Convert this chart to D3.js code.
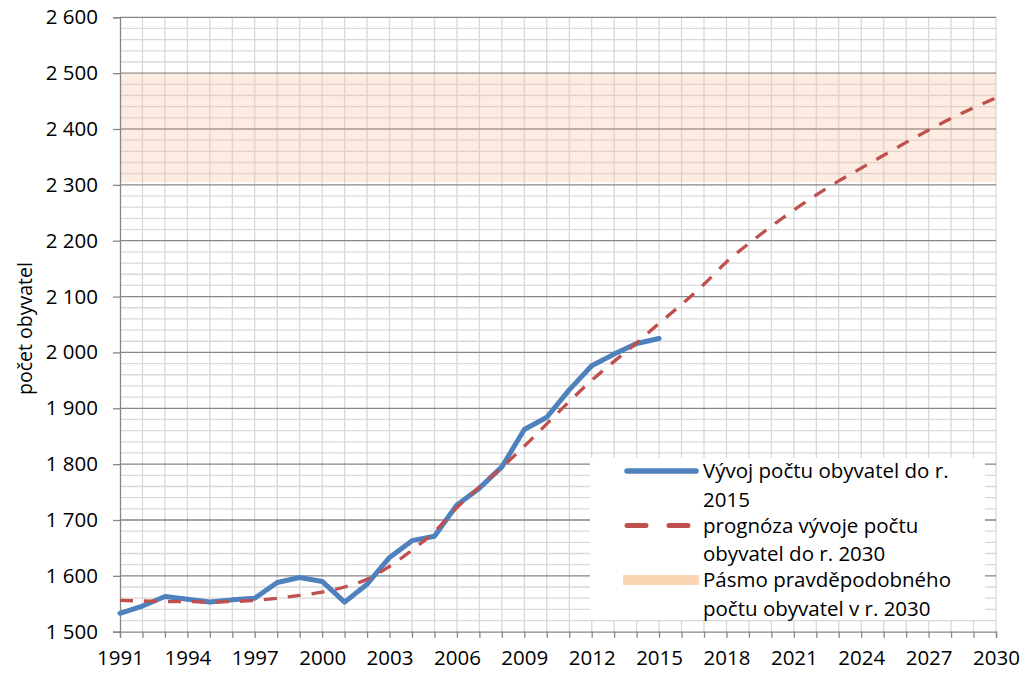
<!DOCTYPE html>
<html>
<head>
<meta charset="utf-8">
<script src="https://cdn.jsdelivr.net/npm/d3@7.9.0/dist/d3.min.js"></script>
<style>
  body { margin: 0; background: #fff; }
  svg { display: block; font-family: "Open Sans", sans-serif; }
</style>
</head>
<body>
<svg id="chart" width="1035" height="673"></svg>
<script>
// population data
const yearsActual = [1991, 1992, 1993, 1994, 1995, 1996, 1997, 1998, 1999, 2000, 2001, 2002, 2003,
  2004, 2005, 2006, 2007, 2008, 2009, 2010, 2011, 2012, 2013, 2014, 2015];
const actual = [1533, 1546, 1563, 1558, 1553, 1557, 1560, 1588, 1597, 1590, 1553, 1585, 1633,
  1663, 1671, 1727, 1757, 1795, 1862, 1884, 1933, 1976, 1997, 2016, 2025];

const yearsForecast = [1991, 1992, 1993, 1994, 1995, 1996, 1997, 1998, 1999, 2000, 2001, 2002, 2003,
  2004, 2005, 2006, 2007, 2008, 2009, 2010, 2011, 2012, 2013, 2014, 2015, 2016, 2017, 2018, 2019,
  2020, 2021, 2022, 2023, 2024, 2025, 2026, 2027, 2028, 2029, 2030];
const forecast = [1556, 1555, 1554, 1554, 1553, 1554, 1556, 1560, 1565, 1571, 1580, 1594, 1617,
  1646, 1679, 1722, 1759, 1794, 1832, 1872, 1912, 1950, 1984, 2017, 2052, 2086, 2122, 2162, 2195,
  2226, 2255, 2282, 2307, 2330, 2353, 2376, 2398, 2419, 2438, 2456];

// likely range for 2030
const bandLow = 2305;
const bandHigh = 2500;

const xLabelYears = [1991, 1994, 1997, 2000, 2003, 2006, 2009, 2012, 2015, 2018, 2021, 2024, 2027, 2030];
const yMajorTicks = [1500, 1600, 1700, 1800, 1900, 2000, 2100, 2200, 2300, 2400, 2500, 2600];

const legendItems = [
  { lines: ["Vývoj počtu obyvatel do r.", "2015"], kind: "actual" },
  { lines: ["prognóza vývoje počtu", "obyvatel do r. 2030"], kind: "forecast" },
  { lines: ["Pásmo pravděpodobného", "počtu obyvatel v r. 2030"], kind: "band" }
];

const blue = "#4f81bd", red = "#c0504d", peach = "#fcd5b5";

const svg = d3.select("#chart");
const x = d3.scaleLinear().domain([1991, 2030]).range([120, 996]);
const y = d3.scaleLinear().domain([1500, 2600]).range([631.7, 17.3]);

const cz = d3.formatLocale({ decimal: ",", thousands: "\u00a0", grouping: [3], currency: ["", " Kč"] });
const fmt = cz.format(",d");

// minor horizontal grid every 20
const minorY = d3.range(1500, 2601, 20).filter(v => v % 100 !== 0);
svg.append("g").selectAll("line").data(minorY).join("line")
  .attr("x1", x(1991)).attr("x2", x(2030))
  .attr("y1", d => y(d)).attr("y2", d => y(d))
  .attr("stroke", "#d9d9d9").attr("stroke-width", 1.3);

// vertical grid every year
svg.append("g").selectAll("line").data(yearsForecast.slice(1)).join("line")
  .attr("x1", d => x(d)).attr("x2", d => x(d))
  .attr("y1", y(2600)).attr("y2", y(1500))
  .attr("stroke", "#d9d9d9").attr("stroke-width", 1.3);

// major horizontal grid
svg.append("g").selectAll("line").data(yMajorTicks.slice(1)).join("line")
  .attr("x1", x(1991)).attr("x2", x(2030))
  .attr("y1", d => y(d)).attr("y2", d => y(d))
  .attr("stroke", "#868686").attr("stroke-width", 1.3);

// band of probable population
svg.append("rect")
  .attr("x", x(1991)).attr("width", x(2030) - x(1991))
  .attr("y", y(bandHigh)).attr("height", y(bandLow) - y(bandHigh))
  .attr("fill", "#f5c09a").attr("opacity", 0.3);

// axes
const yAxis = d3.axisLeft(y).tickValues(yMajorTicks).tickFormat(fmt).tickSize(7).tickPadding(15);
svg.append("g").attr("transform", `translate(${x(1991)},0)`).call(yAxis)
  .call(g => g.select(".domain").attr("stroke", "#868686").attr("stroke-width", 1.3))
  .call(g => g.selectAll(".tick line").attr("stroke", "#868686").attr("stroke-width", 1.3))
  .call(g => g.selectAll(".tick text").attr("font-size", 20.5).attr("fill", "#000")
    .attr("font-family", "Open Sans"));

const xAxis = d3.axisBottom(x).tickValues(yearsForecast)
  .tickFormat(d => xLabelYears.includes(d) ? d : "").tickSize(6).tickPadding(13);
svg.append("g").attr("transform", `translate(0,${y(1500)})`).call(xAxis)
  .call(g => g.select(".domain").attr("stroke", "#868686").attr("stroke-width", 1.3))
  .call(g => g.selectAll(".tick line").attr("stroke", "#868686").attr("stroke-width", 1.3))
  .call(g => g.selectAll(".tick text").attr("font-size", 20.5).attr("fill", "#000")
    .attr("font-family", "Open Sans"));

// axis title
svg.append("text")
  .attr("transform", `translate(32,${(y(1500) + y(2600)) / 2 + 4}) rotate(-90)`)
  .attr("text-anchor", "middle")
  .attr("font-size", 19.5)
  .text("počet obyvatel");

// lines
const forecastLine = d3.line().x((d, i) => x(yearsForecast[i])).y(d => y(d)).curve(d3.curveMonotoneX);
const actualLine = d3.line().x((d, i) => x(yearsActual[i])).y(d => y(d));

svg.append("path").datum(actual)
  .attr("d", actualLine)
  .attr("fill", "none").attr("stroke", blue).attr("stroke-width", 5)
  .attr("stroke-linejoin", "round").attr("stroke-linecap", "round");

svg.append("path").datum(forecast)
  .attr("d", forecastLine)
  .attr("fill", "none").attr("stroke", red).attr("stroke-width", 3.3)
  .attr("stroke-dasharray", "13,11");

// legend
const lg = svg.append("g");
lg.append("rect").attr("x", 590).attr("y", 458).attr("width", 395).attr("height", 162).attr("fill", "#fff");

const baselines = [478, 532.5, 587];
legendItems.forEach((item, i) => {
  const b = baselines[i];
  const sy = b - 7;
  if (item.kind === "actual") {
    lg.append("line").attr("x1", 627).attr("x2", 696).attr("y1", sy).attr("y2", sy)
      .attr("stroke", blue).attr("stroke-width", 5.5).attr("stroke-linecap", "round");
  } else if (item.kind === "forecast") {
    lg.append("line").attr("x1", 627).attr("x2", 696).attr("y1", sy).attr("y2", sy)
      .attr("stroke", red).attr("stroke-width", 5).attr("stroke-linecap", "round")
      .attr("stroke-dasharray", "19,23");
  } else {
    lg.append("rect").attr("x", 623).attr("y", sy - 5).attr("width", 76).attr("height", 10)
      .attr("fill", peach);
  }
  item.lines.forEach((t, j) => {
    lg.append("text").attr("x", 703).attr("y", b + j * 28.5)
      .attr("font-size", 20.5).text(t);
  });
});
</script>
</body>
</html>
